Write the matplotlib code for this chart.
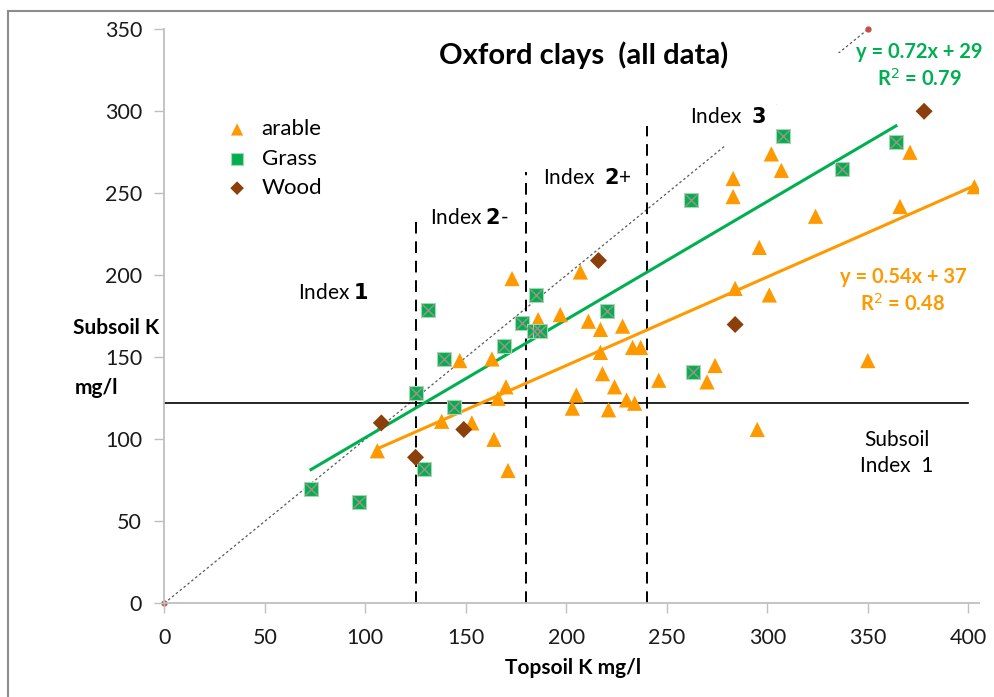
import matplotlib
matplotlib.use("Agg")
import matplotlib.pyplot as plt
from matplotlib.lines import Line2D
from matplotlib.patches import Rectangle

plt.rcParams['font.family'] = ['Lato', 'DejaVu Sans']

# donnees (Topsoil K, Subsoil K)
arable_x = [106, 138, 147, 153, 163, 164, 166, 170, 171, 173, 186, 197, 203, 205, 207, 211,
            217, 217, 218, 221, 224, 228, 230, 233, 234, 237, 246, 270, 274, 283, 283, 284,
            295, 296, 301, 302, 307, 324, 350, 366, 371, 403]
arable_y = [93, 111, 148, 110, 149, 100, 125, 132, 81, 198, 173, 176, 119, 127, 202, 172,
            167, 153, 140, 118, 132, 169, 124, 156, 122, 156, 136, 135, 145, 259, 248, 192,
            106, 217, 188, 274, 264, 236, 148, 242, 275, 254]
grass_x = [73, 97, 125, 129, 131, 139, 144, 169, 178, 184, 187, 185, 220, 263, 262, 308, 337, 364]
grass_y = [70, 62, 128, 82, 179, 149, 120, 157, 171, 166, 166, 188, 178, 141, 246, 285, 265, 281]
wood_x = [108, 125, 149, 216, 284, 378]
wood_y = [110, 89, 106, 209, 170, 300]

# droites de tendance (Excel)
grass_fit = (0.72, 29)
arable_fit = (0.54, 37)

# limites d'indices
index_x = [125, 180, 240]
index_top = [233, 263, 291]
subsoil_limit = 122

green = '#00b050'
orange = '#ff9900'
brown = '#8b3f0a'

W, H = 995, 697

fig = plt.figure(figsize=(9.95, 6.97), dpi=100)
ax = fig.add_axes([0.1651, 0.1344, 0.8188, 0.8236])

# ligne 1:1
ax.plot([0, 350], [0, 350], linestyle=(0, (2, 2)), color='#595959', lw=0.9, zorder=1)
ax.plot([0, 350], [0, 350], linestyle='none', marker='o', ms=3.5, color='#c0504d', zorder=1, clip_on=False)

# fonds blancs des etiquettes (masquent la ligne 1:1 comme dans Excel)
ax.add_patch(Rectangle((776 / W, 1 - 104 / H), 209 / W, 51 / H, transform=fig.transFigure,
                       facecolor='white', edgecolor='none', zorder=1.5))
ax.add_patch(Rectangle((688 / W, 1 - 146 / H), 88 / W, 46 / H, transform=fig.transFigure,
                       facecolor='white', edgecolor='none', zorder=1.5))

# lignes d'indices
for xv, top in zip(index_x, index_top):
    ax.plot([xv, xv], [0, top], color='black', lw=1.4, linestyle=(0, (6, 4)), zorder=2)
ax.plot([0, 400], [subsoil_limit, subsoil_limit], color='black', lw=1.2, zorder=2)

# tendances
gx = [min(grass_x), max(grass_x)]
ax.plot(gx, [grass_fit[0] * v + grass_fit[1] for v in gx], color=green, lw=2.2, zorder=3)
axx = [min(arable_x), max(arable_x)]
ax.plot(axx, [arable_fit[0] * v + arable_fit[1] for v in axx], color=orange, lw=2.2, zorder=3)

ax.scatter(arable_x, arable_y, marker='^', s=120, color=orange, edgecolors='none', zorder=4, label='arable')
ax.scatter(grass_x, grass_y, marker='s', s=115, color=green, edgecolors='#a6d8b5', linewidths=0.8, zorder=4, label='Grass')
ax.scatter(grass_x, grass_y, marker='x', s=72, color='#a08f86', linewidths=1.1, zorder=5)
ax.scatter(wood_x, wood_y, marker='D', s=75, color=brown, edgecolors='none', zorder=4, label='Wood')

ax.set_xlim(0, 405.3)
ax.set_ylim(0, 350)
ax.set_xticks(range(0, 401, 50))
ax.set_yticks(range(0, 351, 50))
for s in ['top', 'right']:
    ax.spines[s].set_visible(False)
for s in ['left', 'bottom']:
    ax.spines[s].set_color('#bfbfbf')
    ax.spines[s].set_linewidth(1.3)
ax.tick_params(axis='both', colors='#bfbfbf', labelcolor='#1a1a1a', labelsize=15.5, length=7, width=1)
ax.tick_params(axis='x', pad=11)
ax.tick_params(axis='y', pad=9)

ax.legend(loc='upper left', bbox_to_anchor=(0.043, 0.878), frameon=False, fontsize=16,
          handletextpad=0.3, handlelength=1.6, labelspacing=0.42, markerscale=0.8)

# textes
ax.text(0.515, 0.955, 'Oxford clays  (all data)', transform=ax.transAxes, ha='center', va='center',
        fontsize=21, fontweight='bold')
ax.text(919 / W, 631 / H, 'y = 0.72x + 29\nR$^2$ = 0.79', transform=fig.transFigure, ha='center', va='center',
        fontsize=14.5, fontweight='bold', color=green, linespacing=1.3)
ax.text(903 / W, 406 / H, 'y = 0.54x + 37\nR$^2$ = 0.48', transform=fig.transFigure, ha='center', va='center',
        fontsize=14.5, fontweight='bold', color=orange, linespacing=1.3)
ax.text(897 / W, 244 / H, 'Subsoil\nIndex  1', transform=fig.transFigure, ha='center', va='center',
        fontsize=15, linespacing=1.4)

ax.text(333 / W, 404 / H, 'Index $\\mathbf{1}$', transform=fig.transFigure, ha='center', va='center', fontsize=15)
ax.text(469 / W, 479 / H, 'Index $\\mathbf{2}$-', transform=fig.transFigure, ha='center', va='center', fontsize=15)
ax.text(587 / W, 519 / H, 'Index  $\\mathbf{2}$+', transform=fig.transFigure, ha='center', va='center', fontsize=15)
ax.text(728 / W, 580 / H, 'Index  $\\mathbf{3}$', transform=fig.transFigure, ha='center', va='center', fontsize=15)

ax.text(116 / W, 369 / H, 'Subsoil K', transform=fig.transFigure, ha='center', va='center',
        fontsize=15, fontweight='bold')
ax.text(97 / W, 309 / H, 'mg/l', transform=fig.transFigure, ha='center', va='center',
        fontsize=15, fontweight='bold')
ax.text(573 / W, 29 / H, 'Topsoil K mg/l', transform=fig.transFigure, ha='center', va='center',
        fontsize=15, fontweight='bold')

# cadre du graphique
fig.add_artist(Line2D([8 / W, 1], [1 - 10.5 / H, 1 - 10.5 / H], color='#8c8c8c', lw=1.5))
fig.add_artist(Line2D([8 / W, 8 / W], [0, 1 - 10.5 / H], color='#8c8c8c', lw=1.5))

fig.savefig('out.png', dpi=100)
